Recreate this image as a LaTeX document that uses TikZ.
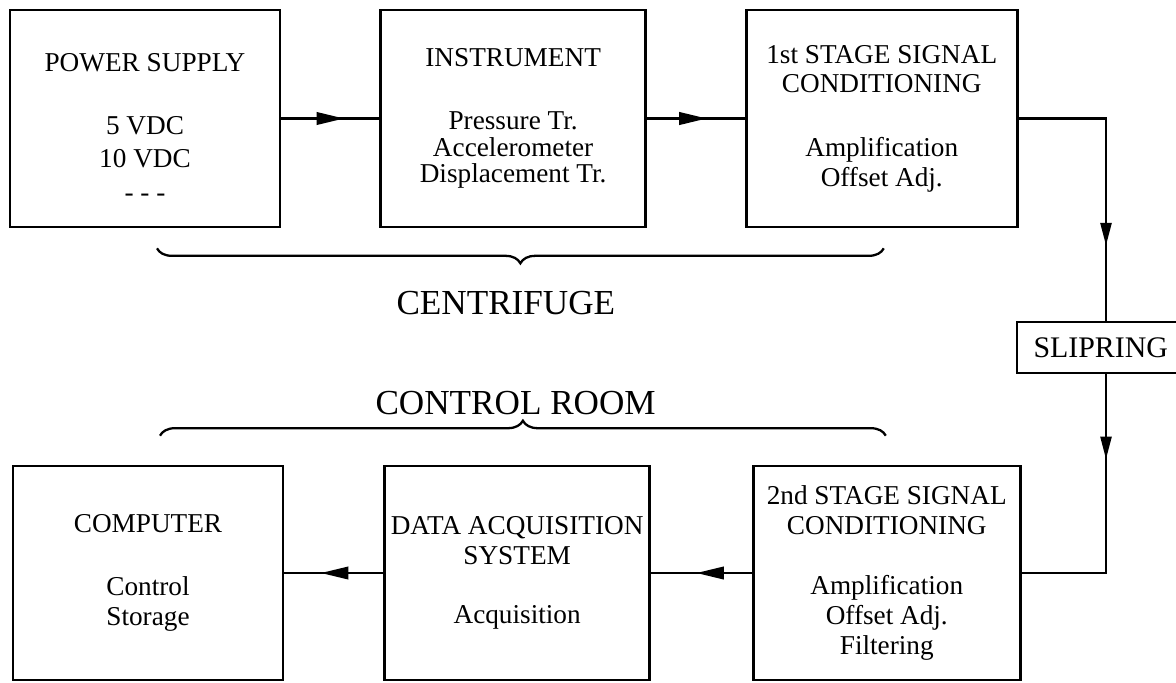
\documentclass[tikz,border=0pt]{standalone}
\usepackage{fontspec}
\setmainfont{Liberation Serif}
\usetikzlibrary{positioning,arrows.meta,decorations.pathreplacing,decorations.markings}

\begin{document}
\begin{tikzpicture}[
  blk/.style={draw,line width=1.5pt,minimum width=5.4cm,minimum height=4.34cm,align=center,font=\fontsize{15.5}{17}\selectfont},
  conn/.style={line width=1.3pt},
  tipat/.style={postaction={decorate},decoration={markings,mark=at position #1 with {\arrow{Triangle[length=5.5mm,width=2.5mm]}}}},
  tipdn/.style={postaction={decorate},decoration={markings,mark=at position #1 with {\arrow{Triangle[length=4.5mm,width=2.2mm]}}}},
  brc/.style={decorate,decoration={brace,amplitude=3mm},line width=1.3pt},
  sect/.style={font=\fontsize{20}{23}\selectfont},
]
\useasboundingbox (0,0) rectangle (23.52,-13.64);

% centrifuge side
\node[blk] (ps) at (2.9,-2.37) {\rule{0pt}{20pt}POWER SUPPLY\\[19pt] 5 VDC\\[2pt] 10 VDC\\[2pt] - - -};
\node[blk, minimum width=5.3cm, right=1.96cm of ps] (ins) {INSTRUMENT\\[19pt] Pressure Tr.\\[-2pt] Accelerometer\\[-2pt] Displacement Tr.};
\node[blk, minimum width=5.42cm, right=1.96cm of ins] (s1) {1st STAGE SIGNAL\\ CONDITIONING\\[19pt] Amplification\\ Offset Adj.};

\node[draw, line width=1.4pt, minimum width=3.56cm, minimum height=1.02cm, font=\fontsize{17}{20}\selectfont] (slip) at (22.12,-6.95) {\hspace*{-6pt}SLIPRING};

% control room side
\node[blk, minimum height=4.28cm] (comp) at (2.96,-11.46) {COMPUTER\\[19pt] Control\\ Storage};
\node[blk, minimum height=4.28cm, minimum width=5.3cm, right=1.98cm of comp] (daq) {DATA ACQUISITION\\ SYSTEM\\[17pt] Acquisition};
\node[blk, minimum height=4.28cm, minimum width=5.34cm, right=2.02cm of daq] (s2) {2nd STAGE SIGNAL\\ CONDITIONING\\[17pt] Amplification\\ Offset Adj.\\ Filtering};

\draw[conn, tipat=0.64] (ps.east) -- (ins.west);
\draw[conn, tipat=0.61] (ins.east) -- (s1.west);
\draw[conn, tipdn=0.74] (s1.east) -| (slip.north);
\draw[conn, tipdn=0.30] (slip.south) |- (s2.east);
\draw[conn, tipat=0.55] (s2.west) -- (daq.east);
\draw[conn, tipat=0.63] (daq.west) -- (comp.east);

% braces
\draw[brc] ([xshift=0.04cm,yshift=-0.4cm]s1.south) -- ([xshift=0.24cm,yshift=-0.4cm]ps.south)
  node[sect, pos=0.52, yshift=-1.1cm] (cen) {CENTRIFUGE};
\draw[brc] ([xshift=0.24cm,yshift=0.58cm]comp.north) -- ([xshift=-0.02cm,yshift=0.58cm]s2.north)
  node[sect, pos=0.49, yshift=0.66cm] (ctl) {CONTROL ROOM};
\end{tikzpicture}
\end{document}
